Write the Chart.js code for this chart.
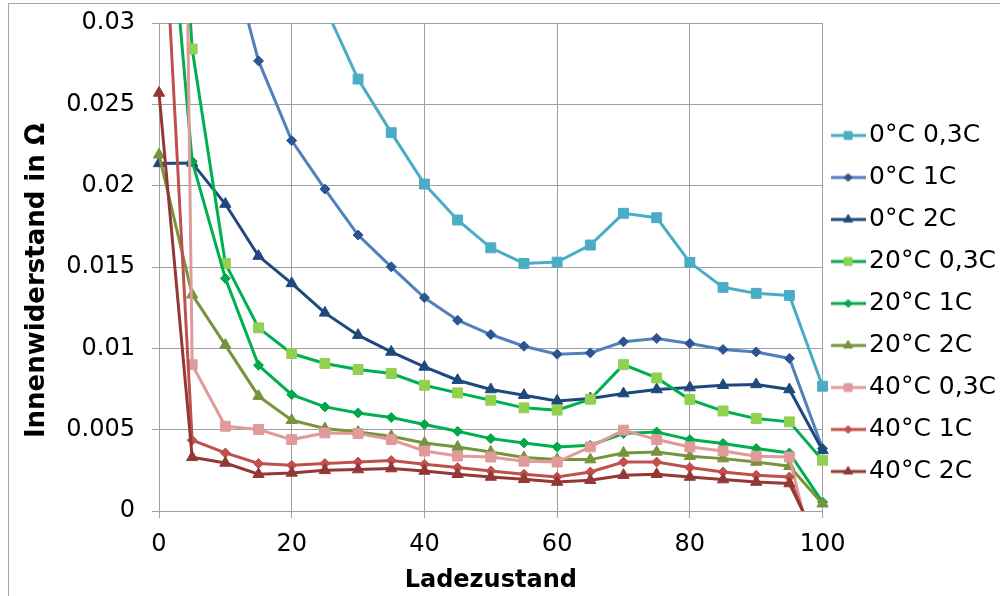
<!DOCTYPE html>
<html><head><meta charset="utf-8">
<script src="https://cdn.jsdelivr.net/npm/chart.js@4.4.1/dist/chart.umd.min.js"></script>
<style>
html,body{margin:0;padding:0;background:#fff;}
#wrap{position:relative;width:1000px;height:596px;overflow:hidden;}
#frame{position:absolute;left:8px;top:3px;width:1000px;height:600px;border-left:1px solid #a6a6a6;border-top:1px solid #a6a6a6;pointer-events:none;}
canvas{display:block}
</style></head><body>
<div id="wrap"><canvas id="c" width="1000" height="596"></canvas><div id="frame"></div></div>
<script>
// Ladezustand (state of charge, %)
const soc = [0,5,10,15,20,25,30,35,40,45,50,55,60,65,70,75,80,85,90,95,100];
const seriesLabels = ['0°C 0,3C','0°C 1C','0°C 2C','20°C 0,3C','20°C 1C','20°C 2C','40°C 0,3C','40°C 1C','40°C 2C'];
const r0_03 = [0.1,0.08,0.06,0.045,0.036,0.031,0.02655,0.02326,0.0201,0.01789,0.01618,0.01522,0.0153,0.01635,0.0183,0.01803,0.01528,0.01375,0.01338,0.01325,0.00767];
const r0_1  = [0.09,0.06,0.0353,0.02767,0.02277,0.01979,0.01696,0.01501,0.01311,0.01173,0.01085,0.01013,0.00964,0.00972,0.0104,0.01061,0.0103,0.00993,0.00978,0.00938,0.00384];
const r0_2  = [0.02137,0.0214,0.01887,0.01567,0.01399,0.01218,0.01081,0.00978,0.00886,0.00804,0.00747,0.00712,0.00677,0.00692,0.00722,0.00747,0.00759,0.00773,0.00778,0.00747,0.00373];
const r20_03 = [0.06,0.0284,0.01522,0.01126,0.00968,0.00907,0.0087,0.00845,0.00773,0.00726,0.00681,0.00634,0.0062,0.00687,0.009,0.00818,0.00685,0.00615,0.00568,0.00548,0.00312];
const r20_1 = [0.0447,0.0215,0.0143,0.00896,0.00715,0.0064,0.00603,0.00575,0.00532,0.0049,0.00445,0.00418,0.00394,0.00404,0.00476,0.00486,0.00439,0.00415,0.00384,0.00357,0.00055];
const r20_2 = [0.0219,0.0133,0.0102,0.00706,0.00558,0.00507,0.00486,0.0046,0.00418,0.00394,0.00363,0.00329,0.00316,0.00316,0.00357,0.00363,0.00337,0.00322,0.00301,0.00275,0.00045];
const r40_03 = [0.17,0.009,0.00521,0.00501,0.00439,0.0048,0.00476,0.00439,0.00369,0.00338,0.00332,0.00306,0.00301,0.00394,0.00497,0.00439,0.00394,0.00369,0.00337,0.00332,-0.005];
const r40_1 = [0.0428,0.00435,0.00357,0.00292,0.00281,0.00292,0.00301,0.0031,0.00287,0.00267,0.00246,0.00226,0.00209,0.0024,0.00301,0.00301,0.00267,0.0024,0.0022,0.00209,-0.0031];
const r40_2 = [0.0257,0.0033,0.00295,0.00226,0.00234,0.0025,0.00255,0.00261,0.00246,0.00226,0.00209,0.00195,0.00178,0.00189,0.0022,0.00226,0.00209,0.00193,0.00178,0.00169,-0.0025];
const yTicks = [0,0.005,0.01,0.015,0.02,0.025,0.03];
const xTicks = [0,20,40,60,80,100];

const seriesValues = [r0_03,r0_1,r0_2,r20_03,r20_1,r20_2,r40_03,r40_1,r40_2];
const styles = [
  {line:'#4BACC6', fill:'#4BACC6', shape:'rect', r:7},
  {line:'#4F81BD', fill:'#2C5490', shape:'rectRot', r:5},
  {line:'#1F497D', fill:'#1F497D', shape:'triangle', r:6.5},
  {line:'#00B050', fill:'#92D050', shape:'rect', r:7},
  {line:'#00B050', fill:'#00A84A', shape:'rectRot', r:5},
  {line:'#77933C', fill:'#77933C', shape:'triangle', r:6.5},
  {line:'#E09A9A', fill:'#E09A9A', shape:'rect', r:7},
  {line:'#C0504D', fill:'#C0504D', shape:'rectRot', r:5},
  {line:'#953735', fill:'#953735', shape:'triangle', r:6.5}
];

const datasets = seriesValues.map((vals,i)=>({
  label: seriesLabels[i],
  data: vals.map((v,j)=>({x: soc[j], y: v})),
  borderColor: styles[i].line,
  backgroundColor: styles[i].fill,
  pointBackgroundColor: styles[i].fill,
  pointBorderColor: styles[i].fill,
  pointBorderWidth: 1,
  pointStyle: styles[i].shape,
  pointRadius: styles[i].r,
  borderWidth: 3,
  tension: 0,
  order: -i,
  clip: {left: 15, right: 15, top: 0, bottom: 0}
}));

const iconCache = {};
function makeIcon(i){
  if (iconCache[i]) return iconCache[i];
  const c = document.createElement('canvas');
  c.width = 35; c.height = 14;
  const ctx = c.getContext('2d');
  ctx.strokeStyle = styles[i].line; ctx.lineWidth = 3;
  ctx.beginPath(); ctx.moveTo(0,7); ctx.lineTo(35,7); ctx.stroke();
  ctx.fillStyle = styles[i].fill; ctx.strokeStyle = styles[i].fill; ctx.lineWidth = 1;
  Chart.helpers.drawPoint(ctx, {pointStyle: styles[i].shape, radius: styles[i].r*0.8, borderWidth: 1, rotation: 0}, 17.5, 7);
  iconCache[i] = c;
  return c;
}

const tickFont = {family:'DejaVu Sans', size:24};
new Chart(document.getElementById('c'), {
  type: 'line',
  data: {datasets},
  options: {
    responsive: false,
    animation: false,
    devicePixelRatio: 1,
    layout: {padding: {top: 11, right: -6, bottom: 0, left: 0}},
    plugins: {
      tooltip: {enabled: false},
      legend: {
        position: 'right',
        labels: {
          usePointStyle: true,
          pointStyleWidth: 17,
          padding: 17,
          color: '#000',
          font: {family:'DejaVu Sans', size:25},
          generateLabels: (chart) => chart.data.datasets.map((ds,i)=>({
            text: ds.label, pointStyle: makeIcon(i), fillStyle: ds.backgroundColor,
            strokeStyle: ds.borderColor, lineWidth: 0, hidden: false, datasetIndex: i, fontColor: '#000'
          }))
        }
      }
    },
    scales: {
      x: {
        type: 'linear', min: 0, max: 100,
        afterBuildTicks: (s) => { s.ticks = xTicks.map(v=>({value:v})); },
        afterFit: (s) => { s.height = 85; s.paddingLeft = 0; s.paddingRight = 0; },
        ticks: {color:'#000', font: tickFont, padding: 12, maxRotation: 0, autoSkip: false},
        grid: {color:'#a0a0a0', lineWidth: 1, tickLength: 7, tickColor:'#a0a0a0'},
        border: {color:'#a0a0a0', width: 1},
        title: {display: true, text: 'Ladezustand', color:'#000', font:{family:'DejaVu Sans', size:24, weight:'bold'}, padding:{top:0, bottom:1}}
      },
      y: {
        type: 'linear', min: 0, max: 0.03,
        afterBuildTicks: (s) => { s.ticks = yTicks.map(v=>({value:v})); },
        afterFit: (s) => { s.width = 159; s.paddingTop = 23; s.paddingBottom = 0; },
        ticks: {color:'#000', font: tickFont, padding: 17, callback: (v) => String(parseFloat(Number(v).toFixed(4)))},
        grid: {color:'#a0a0a0', lineWidth: 1, tickLength: 7, tickColor:'#a0a0a0'},
        border: {color:'#a0a0a0', width: 1},
        title: {display: true, text: 'Innenwiderstand in Ω\u00A0\u00A0\u00A0', color:'#000', font:{family:'DejaVu Sans', size:26, weight:'bold'}, padding:{top:22, bottom:0}}
      }
    }
  }
});
</script>
</body></html>
